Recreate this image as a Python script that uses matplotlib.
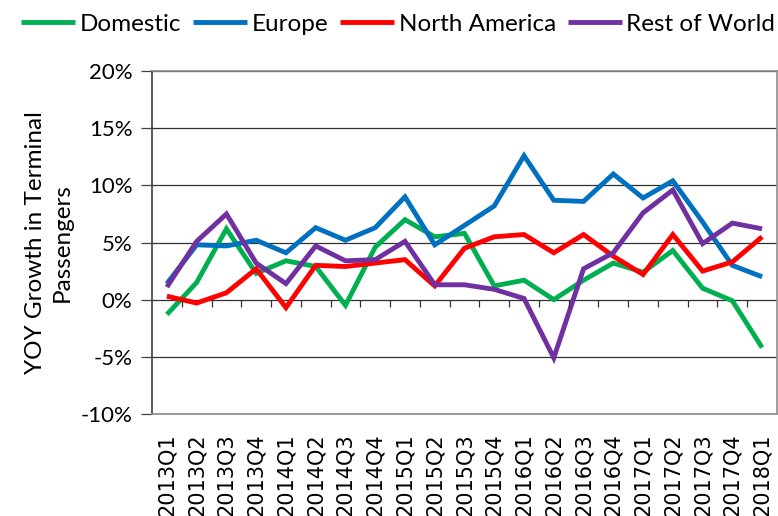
import matplotlib.pyplot as plt
import numpy as np

trimestres = ['2013Q1', '2013Q2', '2013Q3', '2013Q4', '2014Q1', '2014Q2', '2014Q3',
              '2014Q4', '2015Q1', '2015Q2', '2015Q3', '2015Q4', '2016Q1', '2016Q2',
              '2016Q3', '2016Q4', '2017Q1', '2017Q2', '2017Q3', '2017Q4', '2018Q1']

domestico = [-1.3, 1.5, 6.2, 2.3, 3.4, 2.9, -0.5, 4.6, 7.0, 5.5, 5.8,
             1.2, 1.7, 0.0, 1.7, 3.2, 2.4, 4.3, 1.0, -0.1, -4.2]
europa = [1.4, 4.8, 4.7, 5.2, 4.1, 6.3, 5.2, 6.3, 9.0, 4.8, 6.5,
          8.2, 12.6, 8.7, 8.6, 11.0, 8.9, 10.4, 6.8, 3.0, 2.0]
norteamerica = [0.3, -0.3, 0.6, 2.7, -0.7, 3.0, 2.9, 3.2, 3.5, 1.2, 4.5,
                5.5, 5.7, 4.1, 5.7, 3.8, 2.2, 5.7, 2.5, 3.3, 5.5]
resto_mundo = [1.1, 5.1, 7.5, 3.2, 1.4, 4.7, 3.4, 3.5, 5.1, 1.3, 1.3,
               0.9, 0.1, -5.1, 2.7, 4.1, 7.6, 9.6, 4.9, 6.7, 6.2]

series = [
    ('Domestic', domestico, '#00B050'),
    ('Europe', europa, '#0070C0'),
    ('North America', norteamerica, '#FF0000'),
    ('Rest of World', resto_mundo, '#7030A0'),
]

plt.rcParams['font.family'] = ['Lato', 'DejaVu Sans']

figura = plt.figure(figsize=(7.78, 5.16), dpi=100)
eje = figura.add_axes([0.1954, 0.198, 0.8033, 0.664])

x = np.arange(len(trimestres))
for nombre, valores, color in series:
    eje.plot(x, valores, color=color, linewidth=3.5, label=nombre,
             solid_joinstyle='miter', solid_capstyle='butt')

eje.set_xlim(-0.5, len(trimestres) - 0.5)
eje.set_ylim(-10, 20)
eje.set_yticks(np.arange(-10, 21, 5))
eje.set_yticklabels([f'{v}%' for v in range(-10, 21, 5)], fontsize=16)
eje.yaxis.grid(True, color='#303030', linewidth=0.9)
eje.set_axisbelow(True)

# marcas del eje horizontal sobre la linea del 0%
eje.vlines(x[:-1] + 0.5, -0.65, 0, color='#303030', linewidth=0.9)

eje.set_xticks(x)
eje.set_xticklabels(trimestres, rotation=90, fontsize=15, family='DejaVu Sans')
eje.tick_params(axis='x', length=0, pad=14)
eje.tick_params(axis='y', length=8, width=0.9, color='#404040', pad=6)

for lado in ['top', 'right', 'bottom']:
    eje.spines[lado].set_color('#8c8c8c')
    eje.spines[lado].set_linewidth(1.2)
eje.spines['left'].set_color('#404040')
eje.spines['left'].set_linewidth(1.2)

eje.set_ylabel('YOY Growth in Terminal\nPassengers', fontsize=17.5, labelpad=6,
               linespacing=1.3)

figura.legend(loc='center', bbox_to_anchor=(0.512, 0.953), ncol=4, frameon=False,
              fontsize=17.5, handlelength=2.2, handletextpad=0.2, columnspacing=0.5,
              borderaxespad=0)

plt.savefig('out.png', dpi=100)
